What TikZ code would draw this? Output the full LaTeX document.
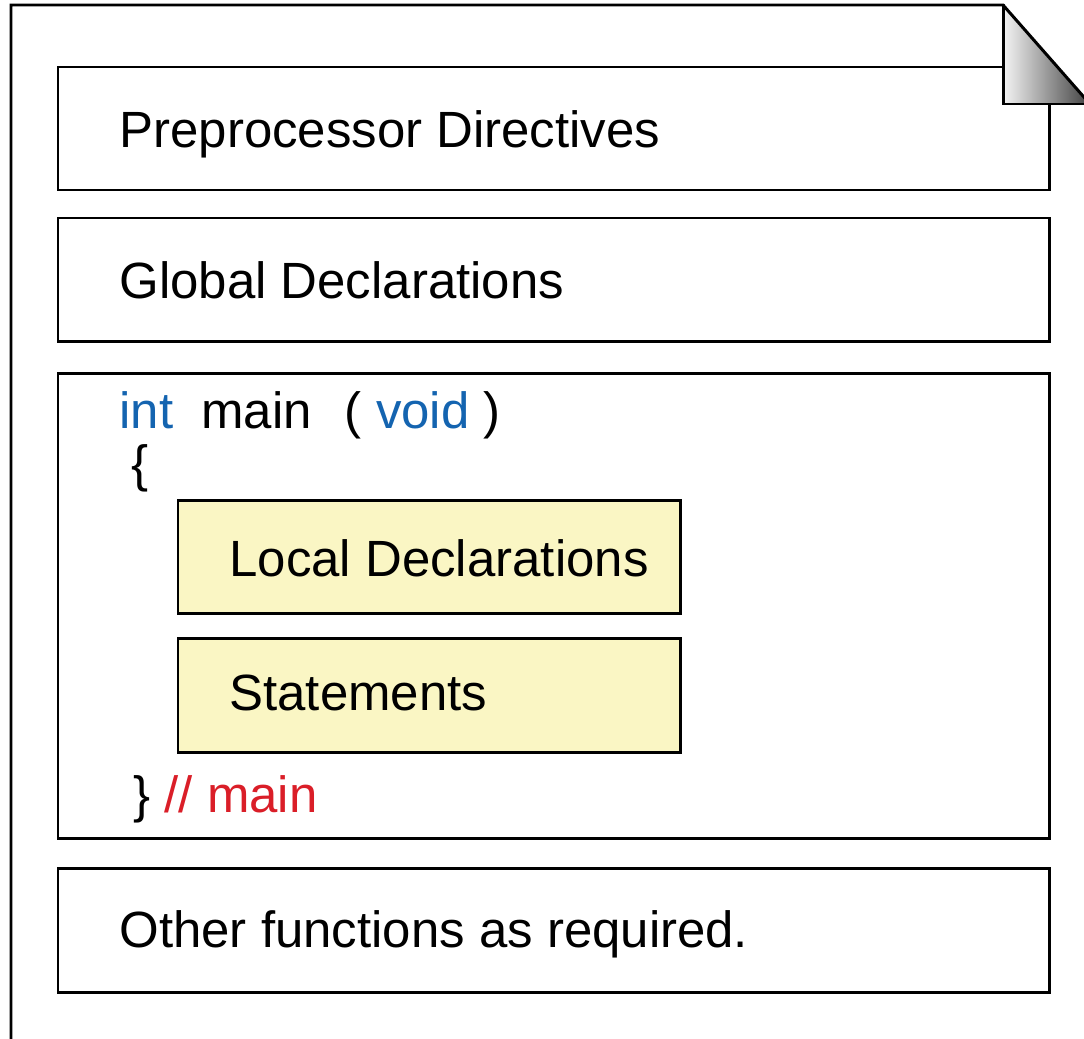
\documentclass[tikz,border=0pt]{standalone}
\usepackage{fontspec}
\setmainfont{Liberation Sans}
\definecolor{kwblue}{RGB}{20,100,176}
\definecolor{cmtred}{RGB}{218,30,40}
\definecolor{blockyellow}{RGB}{250,246,196}

\begin{document}
\begin{tikzpicture}[x=0.02cm,y=-0.02cm,line width=1.7pt,
    every node/.style={font=\fontsize{29}{34}\selectfont,inner sep=0pt,anchor=base west},
    block/.style={fill=blockyellow}]
	  \useasboundingbox (0,0) rectangle (1084,1038);
	  \clip (0,0) rectangle (1084,1038);

	  % the sheet
	  \draw (11,1045) -- (11,5) -- (1003,5) -- (1090,104);

	  \draw (58,67) rectangle (1049,190);    % preprocessor
	  \draw (58,218) rectangle (1049,341);   % globals
	  \draw (58,373) rectangle (1049,838);   % main
	  \draw (58,868) rectangle (1049,992);   % other functions
	  \draw[block] (178,500) rectangle (680,613);
	  \draw[block] (178,638) rectangle (680,752);

	  % folded corner, on top of the first box
	  \fill[white] (1003,5) rectangle (1090,104);
	  \shade[left color=gray!8, right color=black!75] (1003,5) -- (1003,104) -- (1090,104) -- cycle;
	  \draw (1003,5) -- (1003,104) -- (1090,104);
	  \draw (1003,5) -- (1090,104);

	  \node (prep) at (118,147) {Preprocessor Directives};
	  \node (glob) at (118,298) {Global Declarations};
	  \node (head) at (118,428) {\textcolor{kwblue}{int}\hspace{0.55em}main\hspace{0.65em}(\hspace{0.28em}\textcolor{kwblue}{void}\hspace{0.28em})};
	  \node (open) at (130,481) {\{};
	  \node (local) at (228,576) {Local Declarations};
	  \node (stmt) at (228,710) {Statements};
	  \node (close) at (132,812) {\} \textcolor{cmtred}{// main}};
	  \node (other) at (118,947) {Other functions as required.};
\end{tikzpicture}
\end{document}
